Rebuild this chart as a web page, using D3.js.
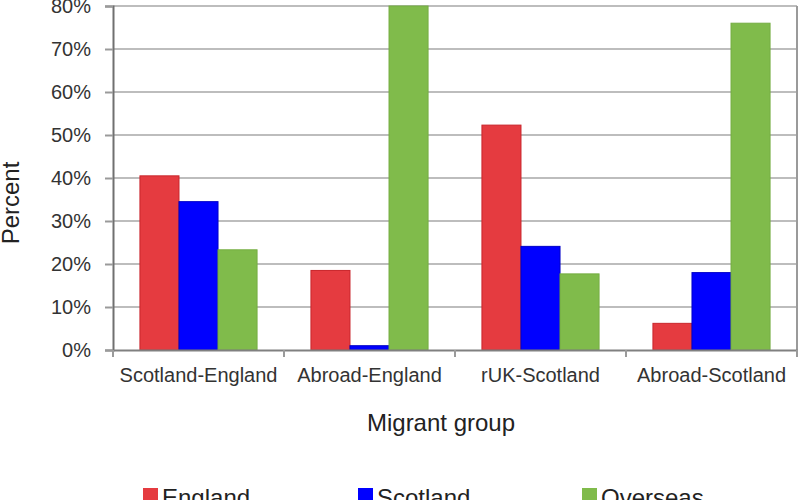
<!DOCTYPE html>
<html>
<head>
<meta charset="utf-8">
<script src="https://cdn.jsdelivr.net/npm/d3@7"></script>
<style>
  body { margin: 0; background: #fff; }
  svg { display: block; font-family: "Liberation Sans", Arial, sans-serif; }
</style>
</head>
<body>
<svg width="798" height="500"></svg>
<script>
// chart values
const groups = ["Scotland-England", "Abroad-England", "rUK-Scotland", "Abroad-Scotland"];
const seriesNames = ["England", "Scotland", "Overseas"];
const england = [40.5, 18.5, 52.3, 6.2];
const scotland = [34.5, 1.0, 24.1, 18.0];
const overseas = [23.3, 80, 17.7, 76.0];
const yTicks = [0, 10, 20, 30, 40, 50, 60, 70, 80];

const seriesValues = [england, scotland, overseas];
const colors = ["#e53b40", "#0000ff", "#80bb4b"];
const strokes = ["#c9252b", "#0000c8", "#74ad42"];

const svg = d3.select("svg");
const plotLeft = 113, plotRight = 797, plotTop = 6, plotBottom = 350;

const x0 = d3.scaleBand().domain(groups).range([plotLeft, plotRight]);
const x1 = d3.scaleBand().domain(seriesNames).range([0, x0.bandwidth()]).paddingOuter(0.69);
const y = d3.scaleLinear().domain([0, 80]).range([plotBottom, plotTop]);

// gridlines
svg.append("g")
  .selectAll("line")
  .data(yTicks.filter(d => d > 0))
  .enter().append("line")
  .attr("x1", plotLeft).attr("x2", plotRight)
  .attr("y1", d => y(d)).attr("y2", d => y(d))
  .attr("stroke", "#bdbdbd")
  .attr("stroke-width", 2);

// right border of plot area
svg.append("line")
  .attr("x1", plotRight).attr("x2", plotRight)
  .attr("y1", plotTop).attr("y2", plotBottom)
  .attr("stroke", "#9a9a9a")
  .attr("stroke-width", 2);

// bars
const data = [];
groups.forEach((g, i) => {
  seriesNames.forEach((s, j) => {
    data.push({group: g, series: s, idx: j, value: seriesValues[j][i]});
  });
});

svg.append("g")
  .selectAll("rect")
  .data(data)
  .enter().append("rect")
  .attr("x", d => x0(d.group) + x1(d.series))
  .attr("y", d => y(d.value))
  .attr("width", x1.bandwidth())
  .attr("height", d => y(0) - y(d.value))
  .attr("fill", d => colors[d.idx])
  .attr("stroke", d => strokes[d.idx])
  .attr("stroke-width", 1);

// y axis
const yAxis = svg.append("g")
  .attr("transform", `translate(${plotLeft},0)`)
  .call(d3.axisLeft(y).tickValues(yTicks).tickFormat(d => d + "%").tickSize(8).tickPadding(14));
yAxis.select(".domain").attr("stroke", "#707070").attr("stroke-width", 2);
yAxis.selectAll(".tick line").attr("stroke", "#9a9a9a").attr("stroke-width", 2);
yAxis.selectAll("text")
  .attr("font-size", 20)
  .attr("fill", "#333")
  .style("font-family", "Liberation Sans, Arial, sans-serif");

// x axis
const xAxis = svg.append("g")
  .attr("transform", `translate(0,${plotBottom})`)
  .call(d3.axisBottom(x0).tickSize(0).tickPadding(18));
xAxis.select(".domain").attr("stroke", "#808080").attr("stroke-width", 2);
xAxis.selectAll("text")
  .attr("font-size", 20)
  .attr("fill", "#333")
  .style("font-family", "Liberation Sans, Arial, sans-serif");

// category boundary ticks
const bounds = groups.map(g => x0(g)).concat([plotRight]);
svg.append("g")
  .selectAll("line")
  .data(bounds)
  .enter().append("line")
  .attr("x1", d => d).attr("x2", d => d)
  .attr("y1", plotBottom).attr("y2", plotBottom + 7)
  .attr("stroke", "#9a9a9a")
  .attr("stroke-width", 2);

// axis titles
svg.append("text")
  .attr("x", 441)
  .attr("y", 431)
  .attr("text-anchor", "middle")
  .attr("font-size", 24)
  .attr("fill", "#222")
  .text("Migrant group");

svg.append("text")
  .attr("transform", "translate(19,203) rotate(-90)")
  .attr("text-anchor", "middle")
  .attr("font-size", 24)
  .attr("fill", "#222")
  .text("Percent");

// legend
const legendX = [143, 358, 582];
const legend = svg.append("g")
  .selectAll("g")
  .data(seriesNames)
  .enter().append("g")
  .attr("transform", (d, i) => `translate(${legendX[i]},488)`);

legend.append("rect")
  .attr("width", 15).attr("height", 15)
  .attr("fill", (d, i) => colors[i]);

legend.append("text")
  .attr("x", 19)
  .attr("y", 18)
  .attr("font-size", 24)
  .attr("fill", "#222")
  .text(d => d);
</script>
</body>
</html>
